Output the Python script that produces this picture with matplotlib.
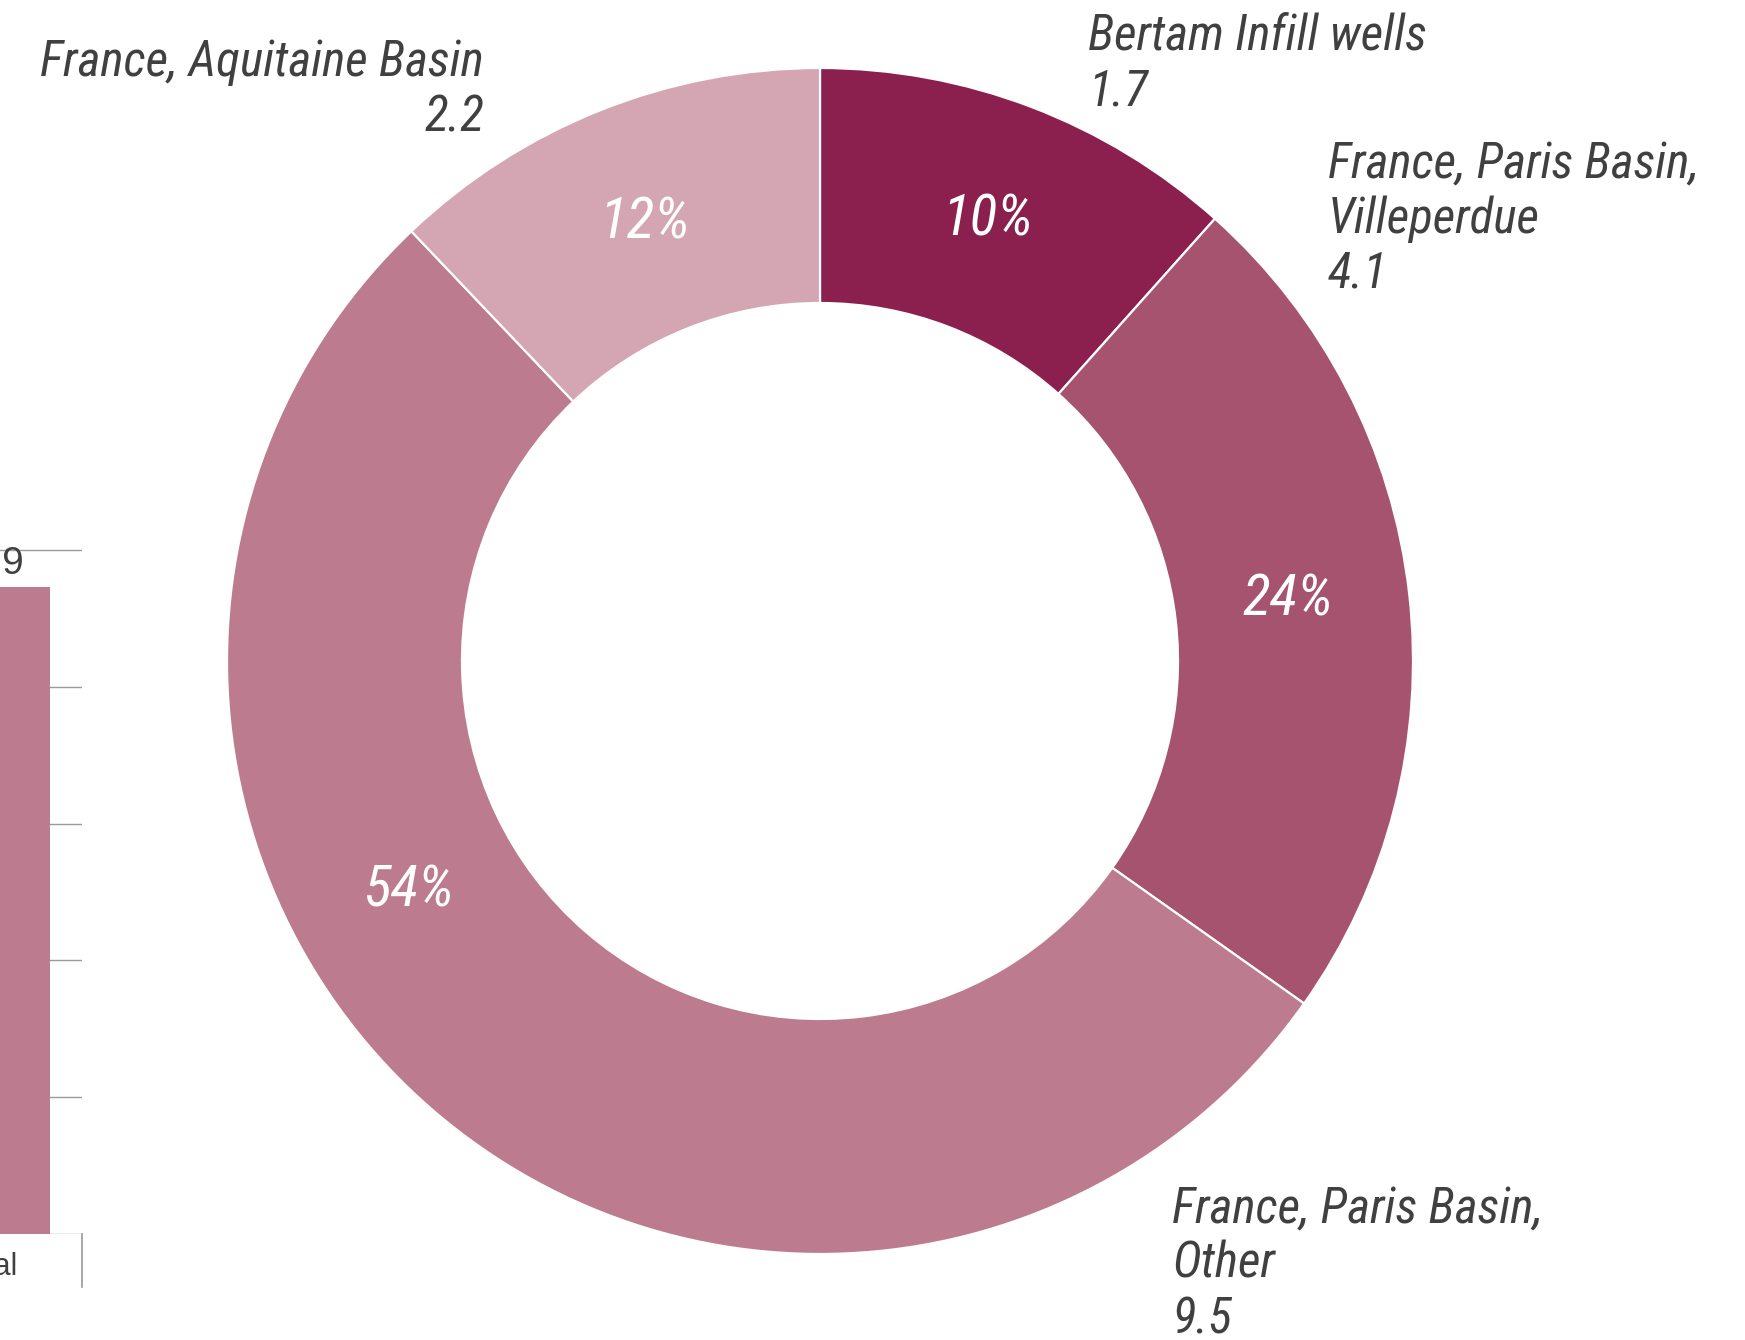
import matplotlib
matplotlib.use("Agg")
import matplotlib.pyplot as plt
import numpy as np

# donut data
segments = ["Bertam Infill wells", "France, Paris Basin,\nVilleperdue",
            "France, Paris Basin,\nOther", "France, Aquitaine Basin"]
values = ["1.7", "4.1", "9.5", "2.2"]
pct_labels = ["10%", "24%", "54%", "12%"]
shares = [11.6, 23.2, 53.1, 12.1]  # slice sizes as drawn in the picture
colors = ["#8b1f4d", "#a5536e", "#bc7b8e", "#d4a6b3"]

# partial bar chart on the left edge
bar_cats = ["Total"]
bar_vals = [18.9]
bar_ticks = [0, 4, 8, 12, 16, 20]

W, H = 1745, 1340
text_col = "#404040"
cond = ["Roboto Condensed", "DejaVu Sans"]

fig = plt.figure(figsize=(W / 100, H / 100), dpi=100)

# ---- bar chart (mostly cut off) ----
left_px, right_px = -300, 82
axb = fig.add_axes([left_px / W, (H - 1234) / H, (right_px - left_px) / W, 691 / H])
axb.bar(range(len(bar_cats)), bar_vals, width=0.8, color="#bc7b8e", zorder=2)
axb.set_xlim(-1.7875, 0.6)
axb.set_ylim(0, 20.2)
axb.set_yticks(bar_ticks)
axb.set_yticklabels([])
axb.tick_params(axis="y", length=0)
axb.set_xticks(range(len(bar_cats)), bar_cats, fontsize=22, family="Liberation Sans", color=text_col)
axb.tick_params(axis="x", length=0, pad=13)
axb.yaxis.grid(True, color="#9a9a9a", linewidth=1.0)
axb.set_axisbelow(True)
for s in axb.spines.values():
    s.set_visible(False)
axb.set_facecolor("none")
axb.plot([1, 1], [0, -0.077], transform=axb.transAxes, color="#9a9a9a", lw=1.2, clip_on=False)
for i, v in enumerate(bar_vals):
    axb.annotate(f"{v}", (i, v), xytext=(0, 9.5), textcoords="offset points",
                 ha="center", va="baseline", fontsize=28, family="Liberation Sans", color=text_col)

# ---- donut ----
ax = fig.add_axes([0, 0, 1, 1])
cx, cy = 820, H - 661
r_out, r_in = 593, 358
wedges, _ = ax.pie(shares, colors=colors, startangle=90, counterclock=False,
                   radius=r_out, center=(cx, cy),
                   wedgeprops=dict(width=r_out - r_in, edgecolor="white", linewidth=1.6))
ax.set_xlim(0, W)
ax.set_ylim(0, H)
ax.set_aspect("equal")
ax.axis("off")

# percentage labels sit mid-ring; the big slice's label is pulled off its middle
r_mid = (r_out + r_in) / 2 - 4
angle_shift = [0, 1, -20, 0]
for w, lab, sh in zip(wedges, pct_labels, angle_shift):
    ang = np.deg2rad((w.theta1 + w.theta2) / 2 + sh)
    ax.text(cx + r_mid * np.cos(ang), cy + r_mid * np.sin(ang), lab,
            ha="center", va="center", fontsize=41.5, style="italic",
            family=cond, color="white")

# outer labels: (x, first baseline from top, alignment)
label_pos = [(1088, 50, "left"), (1328, 178, "left"), (1172, 1223, "left"), (484, 76, "right")]
line_gap = 55
for name, val, (x, y0, ha) in zip(segments, values, label_pos):
    lines = name.split("\n") + [val]
    for k, line in enumerate(lines):
        ax.text(x, H - (y0 + k * line_gap), line, ha=ha, va="baseline",
                fontsize=35.5, style="italic", family=cond, color=text_col)

fig.savefig("out.png", dpi=100)
